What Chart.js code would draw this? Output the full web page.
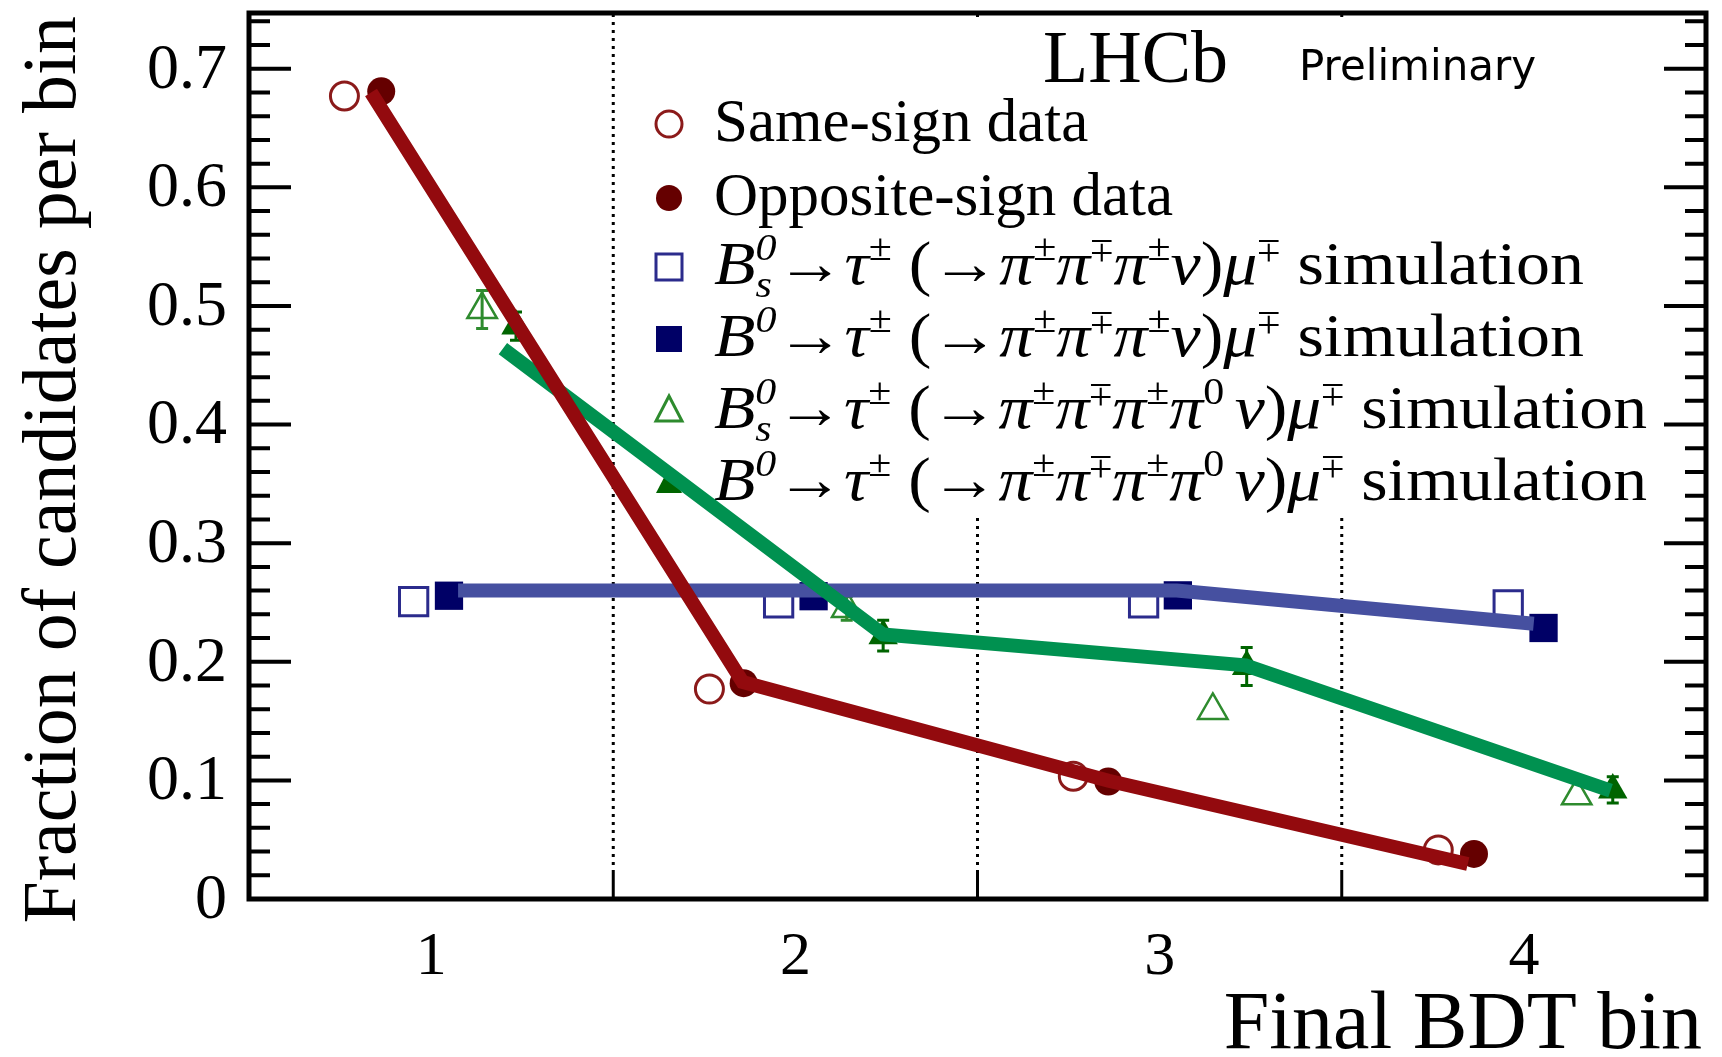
<!DOCTYPE html>
<html><head><meta charset="utf-8">
<script src="https://cdn.jsdelivr.net/npm/chart.js@4.4.1/dist/chart.umd.min.js"></script>
<style>html,body{margin:0;padding:0;background:#fff;}canvas{display:block;}</style>
</head><body>
<canvas id="c" width="1722" height="1057"></canvas>
<script>
// ---- data ----
const binTicks = [1, 2, 3, 4];
const xTickLabels = ['1', '2', '3', '4'];
const binEdges = [1.5, 2.5, 3.5];
const yTickValues = [0, 0.1, 0.2, 0.3, 0.4, 0.5, 0.6, 0.7];
const yTickLabels = ['0', '0.1', '0.2', '0.3', '0.4', '0.5', '0.6', '0.7'];

const sameSignX = [0.762, 1.764, 2.763, 3.765];
const sameSignY = [0.677, 0.177, 0.1035, 0.0414];
const oppSignX = [0.863, 1.858, 2.859, 3.863];
const oppSignY = [0.681, 0.182, 0.099, 0.038];
const bs3piX = [0.952, 1.954, 2.956, 3.957];
const bs3piY = [0.2507, 0.2497, 0.2497, 0.248];
const b03piX = [1.049, 2.05, 3.05, 4.054];
const b03piY = [0.2557, 0.2553, 0.256, 0.2285];
const bs3pipi0X = [1.14, 2.141, 3.146, 4.145];
const bs3pipi0Y = [0.497, 0.245, 0.159, 0.087];
const bs3pipi0Err = [0.016, 0.01, 0, 0];
const b03pipi0X = [1.233, 2.241, 3.239, 4.244];
const b03pipi0Y = [0.483, 0.222, 0.196, 0.092];
const b03pipi0Err = [0.012, 0.013, 0.016, 0.011];

const redLineX = [0.835, 1.855, 2.86, 3.846];
const redLineY = [0.68, 0.183, 0.0997, 0.0295];
const blueLineX = [1.074, 3.047, 4.027];
const blueLineY = [0.26, 0.26, 0.232];
const greenLineX = [1.197, 2.241, 3.236, 4.238];
const greenLineY = [0.464, 0.223, 0.197, 0.0914];

const xTitle = 'Final BDT bin';
const yTitle = 'Fraction of candidates per bin';
const expLabel = 'LHCb';
const prelimLabel = 'Preliminary';

const legendRows = [
  [{t: 'Same-sign data'}],
  [{t: 'Opposite-sign data'}],
  [{t: 'B', it: 1}, {sup: '0', supIt: 1, sub: 's', subIt: 1}, {t: '→'}, {t: 'τ', it: 1}, {sup: '±'}, {t: ' ('}, {t: '→'},
   {t: 'π', it: 1}, {sup: '±'}, {t: 'π', it: 1}, {sup: '∓'}, {t: 'π', it: 1}, {sup: '±'}, {t: 'ν', it: 1}, {t: ')'},
   {t: 'μ', it: 1}, {sup: '∓'}, {t: ' simulation'}],
  [{t: 'B', it: 1}, {sup: '0', supIt: 1}, {t: '→'}, {t: 'τ', it: 1}, {sup: '±'}, {t: ' ('}, {t: '→'},
   {t: 'π', it: 1}, {sup: '±'}, {t: 'π', it: 1}, {sup: '∓'}, {t: 'π', it: 1}, {sup: '±'}, {t: 'ν', it: 1}, {t: ')'},
   {t: 'μ', it: 1}, {sup: '∓'}, {t: ' simulation'}],
  [{t: 'B', it: 1}, {sup: '0', supIt: 1, sub: 's', subIt: 1}, {t: '→'}, {t: 'τ', it: 1}, {sup: '±'}, {t: ' ('}, {t: '→'},
   {t: 'π', it: 1}, {sup: '±'}, {t: 'π', it: 1}, {sup: '∓'}, {t: 'π', it: 1}, {sup: '±'}, {t: 'π', it: 1}, {sup: '0 '}, {t: 'ν', it: 1}, {t: ')'},
   {t: 'μ', it: 1}, {sup: '∓'}, {t: ' simulation'}],
  [{t: 'B', it: 1}, {sup: '0', supIt: 1}, {t: '→'}, {t: 'τ', it: 1}, {sup: '±'}, {t: ' ('}, {t: '→'},
   {t: 'π', it: 1}, {sup: '±'}, {t: 'π', it: 1}, {sup: '∓'}, {t: 'π', it: 1}, {sup: '±'}, {t: 'π', it: 1}, {sup: '0 '}, {t: 'ν', it: 1}, {t: ')'},
   {t: 'μ', it: 1}, {sup: '∓'}, {t: ' simulation'}]
];
const legendWidths = [null, null, 870, 870, 933, 933];

// ---- styles ----
const C = {
  redLine: '#930a0e', openCircle: '#8b1a1a', fillCircle: '#650000',
  blueLine: '#4650a0', openSquare: '#2b2b8c', fillSquare: '#000066',
  greenLine: '#009150', openTri: '#2e8b2e', fillTri: '#006400'
};
const legendMarkers = [
  {s: 'circle', open: true, c: C.openCircle},
  {s: 'circle', open: false, c: C.fillCircle},
  {s: 'rect', open: true, c: C.openSquare},
  {s: 'rect', open: false, c: C.fillSquare},
  {s: 'triangle', open: true, c: C.openTri},
  {s: 'triangle', open: false, c: C.fillTri}
];
const serif = '"Liberation Serif","Times New Roman",serif';
const pts = (xs, ys) => xs.map((v, i) => ({x: v, y: ys[i]}));

function putText(ctx, str, x, y, fs) {
  if (str === '∓') {
    // draw a vertically mirrored plus-minus sign
    const yc = y - 0.253 * fs;
    ctx.save();
    ctx.translate(0, 2 * yc);
    ctx.scale(1, -1);
    ctx.fillText('±', x, y);
    ctx.restore();
    return ctx.measureText('±').width;
  }
  ctx.fillText(str, x, y);
  return ctx.measureText(str).width;
}
function drawRich(ctx, segs, x, y, size) {
  let cx = x;
  for (const s of segs) {
    if (s.sup !== undefined || s.sub !== undefined) {
      const fs = size * 0.62;
      let w = 0;
      if (s.sup !== undefined) {
        ctx.font = (s.supIt ? 'italic ' : '') + fs + 'px ' + serif;
        w = Math.max(w, putText(ctx, s.sup, cx, y - size * 0.40, fs));
      }
      if (s.sub !== undefined) {
        ctx.font = (s.subIt ? 'italic ' : '') + fs + 'px ' + serif;
        w = Math.max(w, putText(ctx, s.sub, cx, y + size * 0.22, fs));
      }
      cx += w;
    } else {
      ctx.font = (s.it ? 'italic ' : '') + size + 'px ' + serif;
      cx += putText(ctx, s.t, cx, y, size);
    }
  }
  return cx - x;
}
function measureRich(ctx, segs, size) {
  ctx.save(); ctx.globalAlpha = 0;
  const w = drawRich(ctx, segs, -5000, -5000, size);
  ctx.restore();
  return w;
}
function drawMarker(ctx, m, x, y) {
  ctx.beginPath();
  if (m.s === 'circle') { ctx.arc(x, y, 13, 0, Math.PI * 2); }
  else if (m.s === 'rect') { ctx.rect(x - 13, y - 13, 26, 26); }
  else { ctx.moveTo(x, y - 15); ctx.lineTo(x + 13, y + 10); ctx.lineTo(x - 13, y + 10); ctx.closePath(); }
  if (m.open) { ctx.lineWidth = 3; ctx.strokeStyle = m.c; ctx.stroke(); }
  else { ctx.fillStyle = m.c; ctx.fill(); }
}

const overlay = {
  id: 'overlay',
  beforeDatasetsDraw(chart) {
    const {ctx, chartArea: a, scales: {x, y}} = chart;
    ctx.save();
    // dotted bin separators
    ctx.strokeStyle = '#000'; ctx.lineWidth = 3; ctx.setLineDash([3, 5]);
    binEdges.forEach(v => {
      const px = x.getPixelForValue(v);
      ctx.beginPath(); ctx.moveTo(px, a.bottom - 26); ctx.lineTo(px, a.top); ctx.stroke();
    });
    ctx.setLineDash([]);
    // legend box
    ctx.fillStyle = '#fff';
    ctx.fillRect(625, 18, 1030, 500);
    // LHCb / Preliminary
    ctx.fillStyle = '#000';
    ctx.textAlign = 'left'; ctx.textBaseline = 'alphabetic';
    ctx.font = '74px ' + serif;
    ctx.fillText(expLabel, 1043, 82);
    ctx.font = '42px "DejaVu Sans",sans-serif';
    ctx.fillText(prelimLabel, 1299, 80);
    // legend entries
    const rowY = [124, 198, 267, 339, 411, 483];
    legendRows.forEach((segs, i) => {
      drawMarker(ctx, legendMarkers[i], 669, rowY[i]);
      ctx.fillStyle = '#000';
      const size = 61;
      const nat = measureRich(ctx, segs, size);
      ctx.save();
      ctx.translate(714, rowY[i] + 17);
      if (legendWidths[i]) ctx.scale(legendWidths[i] / nat, 1);
      drawRich(ctx, segs, 0, 0, size);
      ctx.restore();
    });
    // error bars
    const errSets = [[bs3pipi0X, bs3pipi0Y, bs3pipi0Err, C.openTri], [b03pipi0X, b03pipi0Y, b03pipi0Err, C.fillTri]];
    errSets.forEach(([xs, ys, es, col]) => {
      ctx.strokeStyle = col; ctx.lineWidth = 3;
      xs.forEach((xv, i) => {
        if (!es[i]) return;
        const px = x.getPixelForValue(xv);
        const p1 = y.getPixelForValue(ys[i] + es[i]);
        const p2 = y.getPixelForValue(ys[i] - es[i]);
        ctx.beginPath();
        ctx.moveTo(px, p1); ctx.lineTo(px, p2);
        ctx.moveTo(px - 6, p1); ctx.lineTo(px + 6, p1);
        ctx.moveTo(px - 6, p2); ctx.lineTo(px + 6, p2);
        ctx.stroke();
      });
    });
    ctx.restore();
  },
  afterDatasetsDraw(chart) {
    const {ctx, chartArea: a, scales: {x, y}} = chart;
    ctx.save();
    ctx.strokeStyle = '#000';
    // y ticks (left and right), inside the frame
    ctx.lineWidth = 4;
    for (let i = 1; i <= 37; i++) {
      const v = i * 0.02;
      const py = y.getPixelForValue(v);
      const len = (i % 5 === 0) ? 42 : 21;
      ctx.beginPath();
      ctx.moveTo(a.left, py); ctx.lineTo(a.left + len, py);
      ctx.moveTo(a.right, py); ctx.lineTo(a.right - len, py);
      ctx.stroke();
    }
    // x ticks at bin edges
    ctx.lineWidth = 3;
    binEdges.forEach(v => {
      const px = x.getPixelForValue(v);
      ctx.beginPath(); ctx.moveTo(px, a.bottom); ctx.lineTo(px, a.bottom - 26); ctx.stroke();
    });
    // frame
    ctx.lineWidth = 5;
    ctx.strokeRect(a.left, a.top, a.right - a.left, a.bottom - a.top);
    // tick labels
    ctx.fillStyle = '#000';
    ctx.font = '64px ' + serif;
    ctx.textAlign = 'right'; ctx.textBaseline = 'middle';
    yTickValues.forEach((v, i) => ctx.fillText(yTickLabels[i], 227, y.getPixelForValue(v) + 2));
    ctx.font = '62px ' + serif;
    ctx.textAlign = 'center'; ctx.textBaseline = 'alphabetic';
    binTicks.forEach((v, i) => ctx.fillText(xTickLabels[i], x.getPixelForValue(v), 974));
    // titles
    ctx.font = '82px ' + serif;
    ctx.textAlign = 'right';
    ctx.fillText(xTitle, 1702, 1048);
    ctx.save();
    ctx.translate(75, 16);
    ctx.rotate(-Math.PI / 2);
    ctx.font = '76px ' + serif;
    ctx.textAlign = 'right';
    ctx.fillText(yTitle, 0, 0);
    ctx.restore();
    ctx.restore();
  }
};

const lineDs = (xs, ys, col) => ({
  data: pts(xs, ys), showLine: true, borderColor: col, borderWidth: 14, pointRadius: 0,
  fill: false, tension: 0, borderJoinStyle: 'miter', borderCapStyle: 'butt'
});
const markDs = (xs, ys, style, r, col, open, bw) => ({
  data: pts(xs, ys), showLine: false, pointStyle: style, pointRadius: r,
  pointBackgroundColor: open ? 'rgba(0,0,0,0)' : col, pointBorderColor: col,
  pointBorderWidth: open ? bw : 0
});

new Chart(document.getElementById('c'), {
  type: 'scatter',
  data: {
    datasets: [
      lineDs(redLineX, redLineY, C.redLine),
      lineDs(greenLineX, greenLineY, C.greenLine),
      lineDs(blueLineX, blueLineY, C.blueLine),
      markDs(sameSignX, sameSignY, 'circle', 14, C.openCircle, true, 3),
      markDs(oppSignX, oppSignY, 'circle', 14, C.fillCircle, false, 0),
      markDs(bs3piX, bs3piY, 'rect', 20, C.openSquare, true, 3),
      markDs(b03piX, b03piY, 'rect', 20, C.fillSquare, false, 0),
      markDs(bs3pipi0X, bs3pipi0Y, 'triangle', 17, C.openTri, true, 2.5),
      markDs(b03pipi0X, b03pipi0Y, 'triangle', 17, C.fillTri, false, 0)
    ]
  },
  options: {
    responsive: false, devicePixelRatio: 1, animation: false,
    layout: {autoPadding: false, padding: {left: 249, right: 16, top: 13, bottom: 158}},
    plugins: {legend: {display: false}, tooltip: {enabled: false}},
    scales: {
      x: {type: 'linear', min: 0.5, max: 4.5, display: false},
      y: {type: 'linear', min: 0, max: 0.747, display: false}
    }
  },
  plugins: [overlay]
});
</script>
</body></html>
